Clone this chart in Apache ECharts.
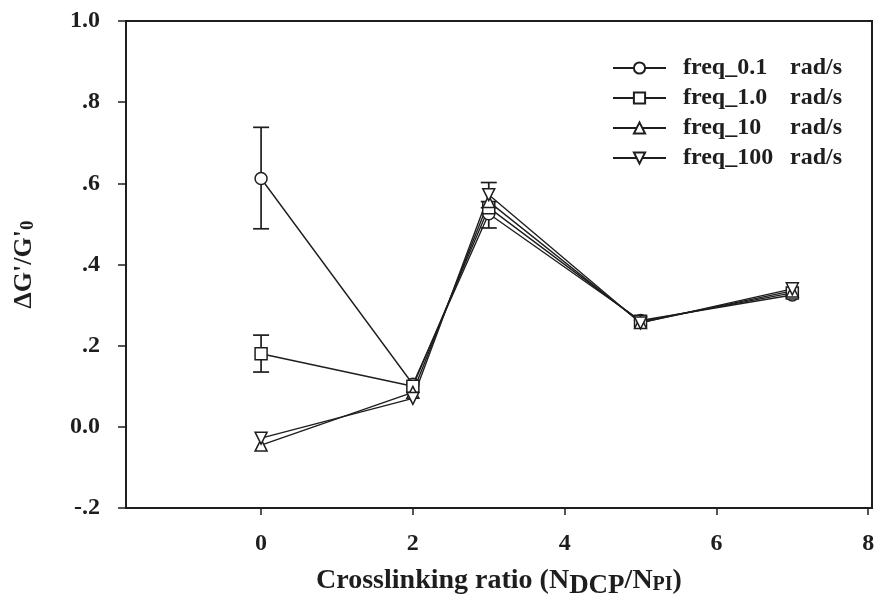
<!DOCTYPE html>
<html><head><meta charset="utf-8">
<script src="https://cdn.jsdelivr.net/npm/echarts@6/dist/echarts.min.js"></script>
<style>html,body{margin:0;padding:0;background:#fff}#c{width:880px;height:596px}</style>
</head><body><div id="c"></div>
<script>
const xValues = [0, 2, 3, 5, 7];
const freq01 = [0.612, 0.105, 0.525, 0.262, 0.325];
const freq1 = [0.180, 0.100, 0.540, 0.260, 0.330];
const freq10 = [-0.045, 0.085, 0.555, 0.257, 0.335];
const freq100 = [-0.028, 0.070, 0.572, 0.256, 0.340];
const errorBars = [[0, 0.488, 0.738], [0, 0.135, 0.226], [3, 0.540, 0.602], [3, 0.490, 0.555]];
const xTicks = [0, 2, 4, 6, 8];
const yTicks = [-0.2, 0, 0.2, 0.4, 0.6, 0.8, 1.0];
const yTickLabels = ['-.2', '0.0', '.2', '.4', '.6', '.8', '1.0'];
const seriesNames = ['freq_0.1', 'freq_1.0', 'freq_10', 'freq_100'];

const font = 'Liberation Serif';
const ink = '#1e1e1e';
const chart = echarts.init(document.getElementById('c'));
const pair = arr => xValues.map((x, i) => [x, arr[i]]);
const mkSeries = (name, arr, symbol, rotate) => ({
  name, type: 'line', data: pair(arr), symbol, symbolSize: 12, symbolRotate: rotate || 0,
  lineStyle: {color: ink, width: 1.4},
  itemStyle: {color: '#fff', borderColor: ink, borderWidth: 1.5},
  z: 3
});
chart.setOption({
  animation: false,
  grid: {left: 126, right: 8, top: 21, bottom: 88, show: true, borderColor: ink, borderWidth: 2,
    containLabel: false, outerBoundsMode: 'none'},
  legend: {
    orient: 'vertical', left: 607, top: 51, itemWidth: 53, itemHeight: 14, itemGap: 6,
    data: seriesNames,
    formatter: n => '{a|' + n + '}{b|rad/s}',
    textStyle: {lineHeight: 24, rich: {
      a: {fontFamily: font, fontWeight: 'bold', fontSize: 24, color: ink, width: 107, padding: [0, 0, 0, 12]},
      b: {fontFamily: font, fontWeight: 'bold', fontSize: 24, color: ink}
    }}
  },
  xAxis: {
    type: 'value', min: -1.78, max: 8.05,
    splitLine: {show: false},
    axisLine: {onZero: false, lineStyle: {color: ink, width: 2}},
    axisTick: {customValues: xTicks, length: 7, lineStyle: {color: ink, width: 1.5}},
    axisLabel: {customValues: xTicks, margin: 24, fontFamily: font, fontWeight: 'bold', fontSize: 24, color: ink},
    name: '{t|Crosslinking ratio (N}{s|DCP}{t|/N}{s2|PI}{t|)}',
    nameLocation: 'middle', nameGap: 53,
    nameTextStyle: {rich: {
      t: {fontFamily: font, fontWeight: 'bold', fontSize: 28, color: ink},
      s: {fontFamily: font, fontWeight: 'bold', fontSize: 27, color: ink, padding: [12, 0, 0, 0]},
      s2: {fontFamily: font, fontWeight: 'bold', fontSize: 20, color: ink, padding: [8, 0, 0, 0]}
    }}
  },
  yAxis: {
    type: 'value', min: -0.2, max: 1.0, interval: 0.2,
    splitLine: {show: false},
    axisLine: {onZero: false, lineStyle: {color: ink, width: 2}},
    axisTick: {length: 8, lineStyle: {color: ink, width: 1.5}},
    axisLabel: {margin: 26, fontFamily: font, fontWeight: 'bold', fontSize: 24, color: ink,
      formatter: v => { const i = yTicks.findIndex(t => Math.abs(t - v) < 1e-6); return i >= 0 ? yTickLabels[i] : ''; }},
    name: "{t|ΔG'/G'}{s|0}", nameLocation: 'middle', nameGap: 88, nameRotate: 90,
    nameTextStyle: {rich: {
      t: {fontFamily: font, fontWeight: 'bold', fontSize: 26, color: ink},
      s: {fontFamily: font, fontWeight: 'bold', fontSize: 19, color: ink, padding: [9, 0, 0, 0]}
    }}
  },
  series: [
    mkSeries(seriesNames[0], freq01, 'circle'),
    mkSeries(seriesNames[1], freq1, 'rect'),
    mkSeries(seriesNames[2], freq10, 'triangle'),
    mkSeries(seriesNames[3], freq100, 'triangle', 180),
    {
      type: 'custom', data: errorBars, z: 2, silent: true,
      renderItem: (params, api) => {
        const top = api.coord([api.value(0), api.value(2)]);
        const bot = api.coord([api.value(0), api.value(1)]);
        const w = 8;
        const st = {stroke: ink, lineWidth: 1.7};
        return {type: 'group', children: [
          {type: 'line', shape: {x1: top[0], y1: top[1], x2: bot[0], y2: bot[1]}, style: st},
          {type: 'line', shape: {x1: top[0] - w, y1: top[1], x2: top[0] + w, y2: top[1]}, style: st},
          {type: 'line', shape: {x1: bot[0] - w, y1: bot[1], x2: bot[0] + w, y2: bot[1]}, style: st}
        ]};
      }
    }
  ]
});
</script></body></html>
